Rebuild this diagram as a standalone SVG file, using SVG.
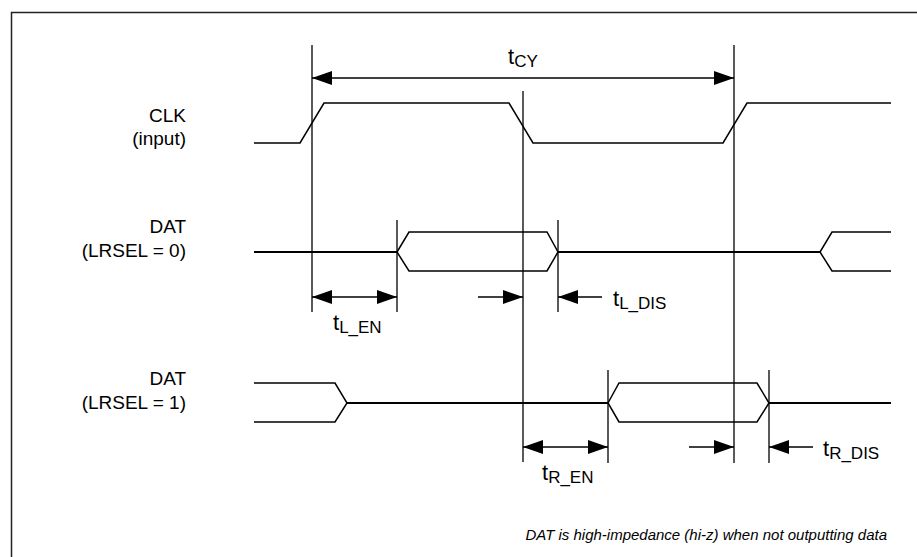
<svg xmlns="http://www.w3.org/2000/svg" width="917" height="557" viewBox="0 0 917 557">
<defs>
<marker id="ah" viewBox="0 0 20 14" refX="20" refY="7" markerWidth="20" markerHeight="14" markerUnits="userSpaceOnUse" orient="auto-start-reverse">
<path d="M0,0 L20,7 L0,14 Z" fill="#000"/>
</marker>
<style>
.lbl{font-family:"Liberation Sans",Arial,sans-serif;font-size:19px;fill:#000;text-anchor:end}
.t{font-family:"Liberation Sans",Arial,sans-serif;font-size:22px;fill:#000}
.sub{font-size:17px}
.note{font-family:"Liberation Sans",Arial,sans-serif;font-size:15px;font-style:italic;fill:#000;text-anchor:end}
.wave{fill:none;stroke:#000;stroke-width:1.5;stroke-linejoin:miter}
.hiz{fill:none;stroke:#000;stroke-width:2}
.ref{fill:none;stroke:#000;stroke-width:1.3}
.dim{fill:none;stroke:#000;stroke-width:1.3}
</style>
</defs>
<rect x="0" y="0" width="917" height="557" fill="#fff"/>
<rect x="11.5" y="12.5" width="920" height="560" fill="none" stroke="#222" stroke-width="1.5"/>

<g id="labels">
<text class="lbl" x="186" y="122">CLK</text>
<text class="lbl" x="186" y="145">(input)</text>
<text class="lbl" x="186" y="233">DAT</text>
<text class="lbl" x="186" y="257">(LRSEL = 0)</text>
<text class="lbl" x="186" y="385">DAT</text>
<text class="lbl" x="186" y="409">(LRSEL = 1)</text>
</g>

<g id="clk">
<path class="wave" d="M254,143 H300 L324,103 H509 L533,143 H723 L747,103 H891"/>
</g>

<g id="dat0">
<path class="hiz" d="M254,252 H397"/>
<path class="wave" d="M397,252 L409,232 H547 L558,252 L547,271 H409 Z"/>
<path class="hiz" d="M558,252 H820"/>
<path class="wave" d="M891,232 H832 L820,252 L832,271 H891"/>
</g>

<g id="dat1">
<path class="wave" d="M254,383 H335 L347,403 L335,422 H254"/>
<path class="hiz" d="M347,403 H608"/>
<path class="wave" d="M608,403 L619,383 H757 L769,403 L757,422 H619 Z"/>
<path class="hiz" d="M769,403 H891"/>
</g>

<g id="connectors">
<path class="ref" d="M312,45 V312"/>
<path class="ref" d="M523,91 V462"/>
<path class="ref" d="M734,45 V463"/>
<path class="ref" d="M397,220 V312"/>
<path class="ref" d="M558,220 V312"/>
<path class="ref" d="M608,370 V463"/>
<path class="ref" d="M769,370 V463"/>
<path class="dim" d="M312,78 H734" marker-start="url(#ah)" marker-end="url(#ah)"/>
<path class="dim" d="M312,297 H397" marker-start="url(#ah)" marker-end="url(#ah)"/>
<path class="dim" d="M478,297 H523" marker-end="url(#ah)"/>
<path class="dim" d="M602,297 H558" marker-end="url(#ah)"/>
<path class="dim" d="M523,447 H608" marker-start="url(#ah)" marker-end="url(#ah)"/>
<path class="dim" d="M689,447 H734" marker-end="url(#ah)"/>
<path class="dim" d="M813,447 H769" marker-end="url(#ah)"/>
</g>

<g id="timing-labels">
<text class="t" x="508" y="64">t<tspan class="sub" dy="3">CY</tspan></text>
<text class="t" x="333" y="330">t<tspan class="sub" dy="3">L_EN</tspan></text>
<text class="t" x="613" y="306">t<tspan class="sub" dy="3">L_DIS</tspan></text>
<text class="t" x="542" y="480">t<tspan class="sub" dy="3">R_EN</tspan></text>
<text class="t" x="823" y="456">t<tspan class="sub" dy="3">R_DIS</tspan></text>
</g>

<g id="note">
<text class="note" x="887" y="540">DAT is high-impedance (hi-z) when not outputting data</text>
</g>
</svg>
